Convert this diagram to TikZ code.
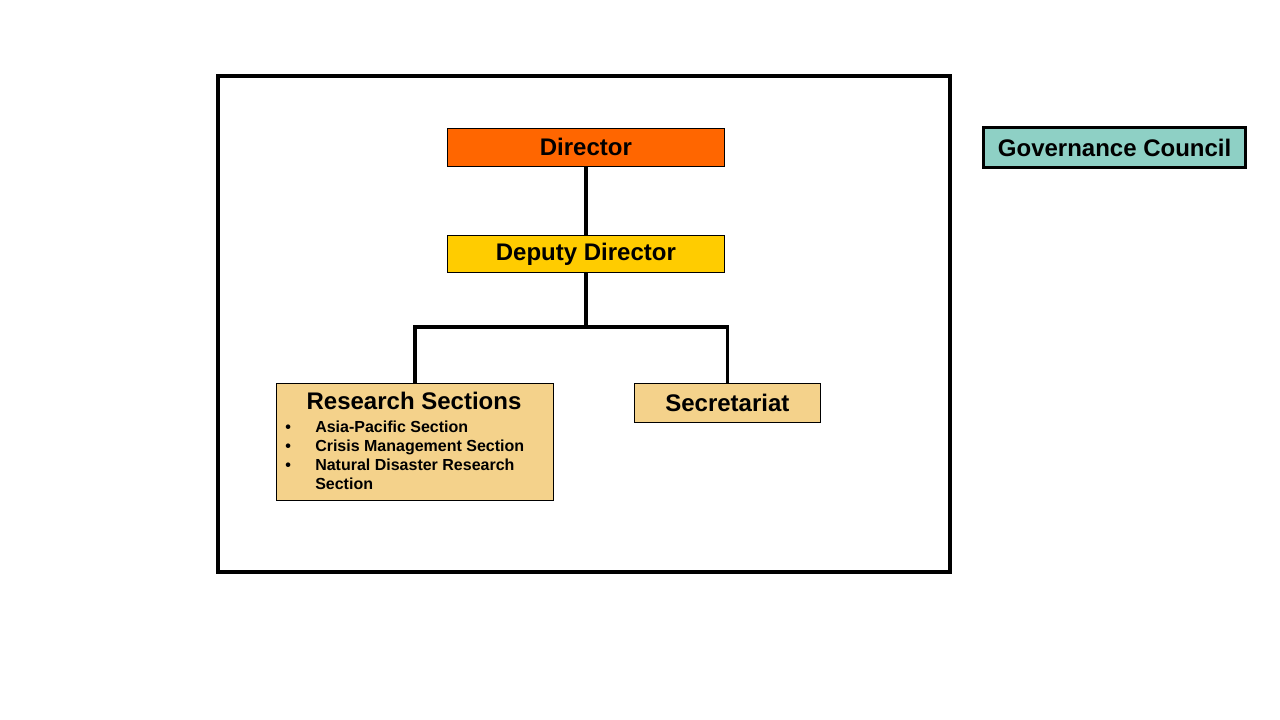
\documentclass[tikz,border=0pt]{standalone}
\usepackage{fontspec}
\setmainfont{Liberation Sans}
\begin{document}
\begin{tikzpicture}[x=0.75pt,y=-0.75pt,
  box/.style={draw=black, line width=0.6pt, inner sep=0pt, anchor=north west, font=\bfseries\fontsize{18}{21}\selectfont},
  conn/.style={line width=2.4pt},
  item/.style={anchor=base west, inner sep=0pt, font=\bfseries\fontsize{12}{14}\selectfont}]
\useasboundingbox (0,0) rectangle (1280,720);
\definecolor{dirc}{HTML}{FF6600}
\definecolor{depc}{HTML}{FFCC00}
\definecolor{secc}{HTML}{F4D28B}
\definecolor{govc}{HTML}{8ED0C5}
\draw[line width=2.4pt] (218,76) rectangle (950,572);
\node[box, fill=dirc, minimum width=277*0.75pt, minimum height=38*0.75pt] (dir) at (447,128) {Director};
\node[box, fill=depc, minimum width=277*0.75pt, minimum height=37*0.75pt] (dep) at (447,235) {Deputy Director};
\node[box, fill=secc, minimum width=277*0.75pt, minimum height=117*0.75pt] (res) at (276,383) {};
\node[box, fill=secc, minimum width=186*0.75pt, minimum height=39*0.75pt] (sec) at (634,383) {Secretariat};
\node[box, fill=govc, line width=2.4pt, minimum width=262*0.75pt, minimum height=40*0.75pt] (gov) at (982,126) {Governance Council};
\node[anchor=base, inner sep=0pt, font=\bfseries\fontsize{18}{21}\selectfont] (rtitle) at (414,409) {Research Sections};
\node[item] (b1) at (285,432) {•};
\node[item] (i1) at (315,432) {Asia-Pacific Section};
\node[item] (b2) at (285,451) {•};
\node[item] (i2) at (315,451) {Crisis Management Section};
\node[item] (b3) at (285,470) {•};
\node[item] (i3) at (315,470) {Natural Disaster Research};
\node[item] (i4) at (315,489) {Section};
\coordinate (lvl) at (0,327);
\coordinate (split) at (dep.south |- lvl);
\draw[conn] (dir.south) -- (dep.north);
\draw[conn] (dep.south) -- (split);
\draw[conn] (res.north) |- (split) -| (sec.north);
\end{tikzpicture}
\end{document}
